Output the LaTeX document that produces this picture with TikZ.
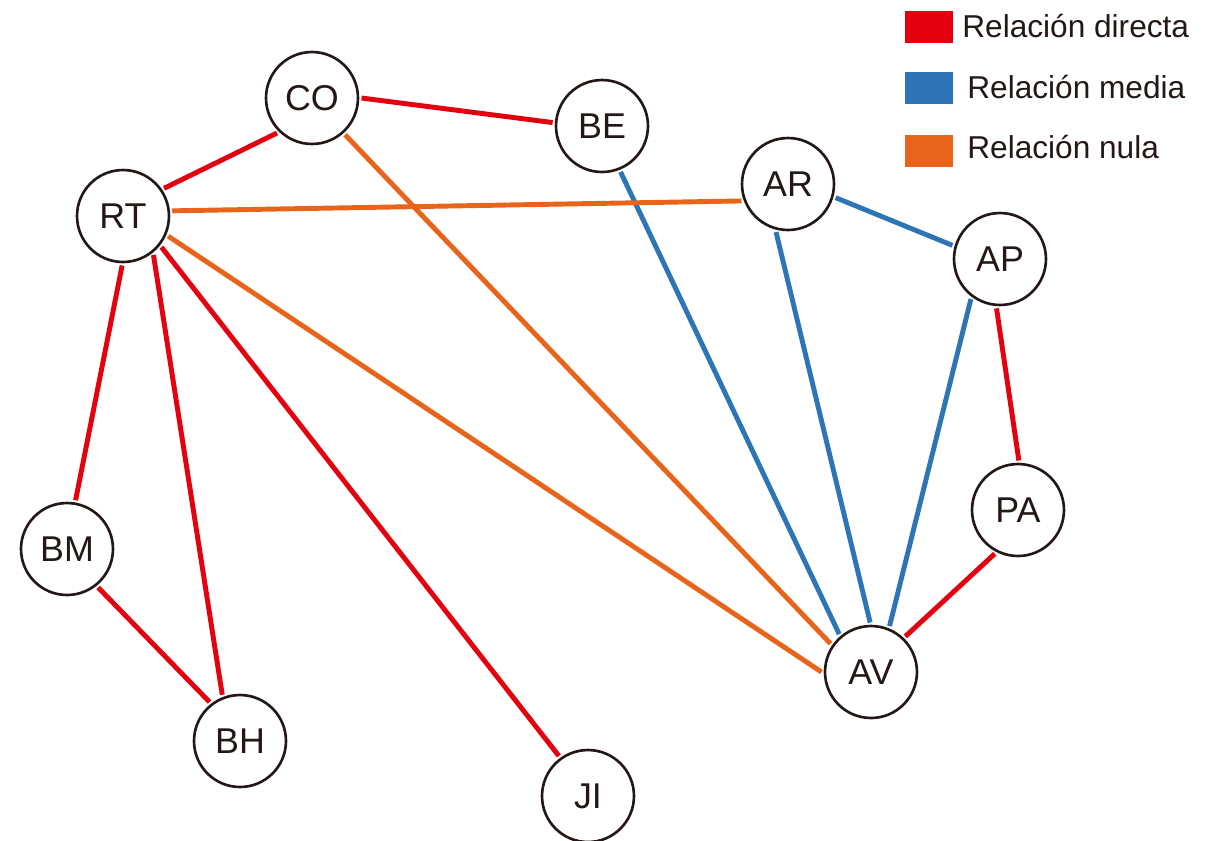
\documentclass[tikz,border=0pt]{standalone}
\usepackage{fontspec}
\setmainfont{Liberation Sans}
\definecolor{rojo}{HTML}{E3000F}
\definecolor{azul}{HTML}{2E75B6}
\definecolor{naranja}{HTML}{E8641A}
\definecolor{tinta}{HTML}{231815}
\begin{document}
\begin{tikzpicture}[x=0.02cm,y=-0.02cm,
    nodo/.style={circle,draw=tinta,line width=1.5pt,fill=white,minimum size=1.84cm,
      inner sep=0pt,outer sep=2pt,text=tinta,font=\fontsize{20.4}{24}\selectfont},
    enlace/.style={line width=2.8pt},
    caja/.style={minimum width=0.96cm,minimum height=0.64cm,inner sep=0pt},
    leyenda/.style={anchor=base west,inner sep=0pt,text=tinta,font=\fontsize{18}{22}\selectfont}]
    \useasboundingbox (0,0) rectangle (1211,840);
    
    % nodos
    \node[nodo] (co) at (312,98) {CO};
    \node[nodo] (be) at (602,126) {BE};
    \node[nodo] (rt) at (123,216) {RT};
    \node[nodo] (ar) at (788,184) {AR};
    \node[nodo] (ap) at (1000,259) {AP};
    \node[nodo] (pa) at (1018,510) {PA};
    \node[nodo] (av) at (871,672) {AV};
    \node[nodo] (bm) at (67,549) {BM};
    \node[nodo] (bh) at (240,741) {BH};
    \node[nodo] (ji) at (588,796) {JI};
    
    % enlaces
    \foreach \a/\p/\b/\q in {co/0/be/176,co/-135/rt/34,rt/-91/bm/80,rt/-52/bh/111,
      rt/-39/ji/126,bm/-51/bh/128,ap/-94/pa/89,pa/-118/av/46}
    \draw[enlace,rojo] (\a.\p) -- (\b.\q);
    \foreach \a/\p/\b/\q in {be/-68/av/130,ar/-104/av/91,ar/-16/ap/164,ap/-126/av/68}
    \draw[enlace,azul] (\a.\p) -- (\b.\q);
    \foreach \a/\p/\b/\q in {co/-48/av/145,rt/6/ar/-160,rt/-24/av/180}
    \draw[enlace,naranja] (\a.\p) -- (\b.\q);
    
    % leyenda
    \node[caja,fill=rojo] (cajarojo) at (929,27) {};
    \node[caja,fill=azul] (cajaazul) at (929,88) {};
    \node[caja,fill=naranja] (cajanaranja) at (929,151) {};
    \node[leyenda] (txtrojo) at (962,37) {Relación directa};
    \node[leyenda] (txtazul) at (967,98) {Relación media};
    \node[leyenda] (txtnaranja) at (967,158) {Relación nula};
\end{tikzpicture}
\end{document}
